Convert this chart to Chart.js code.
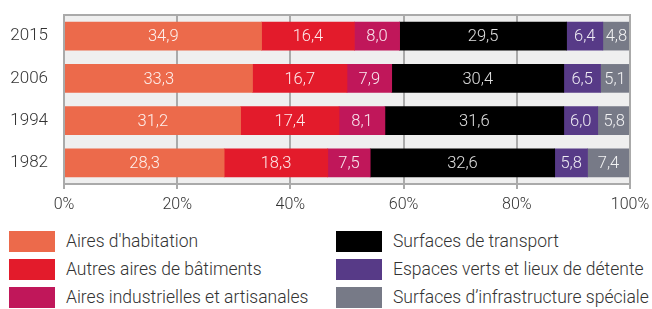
<!DOCTYPE html>
<html><head><meta charset="utf-8">
<script src="https://cdn.jsdelivr.net/npm/chart.js@4/dist/chart.umd.min.js"></script>
<style>
html,body{margin:0;padding:0;background:#fff;}
body{width:652px;height:309px;position:relative;overflow:hidden;font-family:Roboto,"Noto Sans",sans-serif;font-weight:300;}
#wrap{position:absolute;left:0;top:0;width:652px;height:225px;}
.lg{position:absolute;font-size:17.5px;color:#333;line-height:21px;white-space:nowrap;}
.sw{position:absolute;width:46px;height:21px;}
</style></head><body>
<div id="wrap"><canvas id="c"></canvas></div>
<div id="legend"></div>
<script>
const categories = ['2015','2006','1994','1982'];
const seriesNames = ["Aires d'habitation","Autres aires de bâtiments","Aires industrielles et artisanales","Surfaces de transport","Espaces verts et lieux de détente","Surfaces d’infrastructure spéciale"];
const habitation = [34.9,33.3,31.2,28.3];
const autresBatiments = [16.4,16.7,17.4,18.3];
const industrielles = [8.0,7.9,8.1,7.5];
const transport = [29.5,30.4,31.6,32.6];
const espacesVerts = [6.4,6.5,6.0,5.8];
const infrastructure = [4.8,5.1,5.8,7.4];
const xTicks = [0,20,40,60,80,100];
const colors = ['#ec6a4b','#e31b2b','#c0175a','#000000','#573a87','#777a87'];

const values = [habitation,autresBatiments,industrielles,transport,espacesVerts,infrastructure];
const datasets = values.map((d,i)=>({label:seriesNames[i],data:d,backgroundColor:colors[i],borderWidth:0,barThickness:28}));

const bgPlugin = {id:'bg',beforeDraw(ch){const a=ch.chartArea,c=ch.ctx;c.save();c.fillStyle='#efefef';c.fillRect(a.left,a.top,a.right-a.left,a.bottom-a.top);c.restore();},
 afterDraw(ch){const a=ch.chartArea,c=ch.ctx;c.save();c.strokeStyle='#aaaaaa';c.lineWidth=2;c.strokeRect(a.left,a.top,a.right-a.left,a.bottom-a.top);c.restore();}};
const labelPlugin = {id:'lbl',afterDatasetsDraw(ch){const c=ch.ctx;c.save();c.font='300 16.5px Roboto';c.textAlign='center';c.textBaseline='middle';
 ch.data.datasets.forEach((ds,i)=>{const m=ch.getDatasetMeta(i);m.data.forEach((el,j)=>{const v=ds.data[j];const x=(el.x+el.base)/2;
 c.fillStyle=i===3?'rgba(235,235,235,0.95)':'rgba(255,255,255,0.9)';c.fillText(v.toFixed(1).replace('.',','),x,el.y+1);});});c.restore();}};

new Chart(document.getElementById('c'),{type:'bar',
 data:{labels:categories,datasets},
 options:{indexAxis:'y',responsive:true,maintainAspectRatio:false,animation:false,
  layout:{padding:{top:15,right:22,left:0,bottom:0}},
  plugins:{legend:{display:false},tooltip:{enabled:false}},
  scales:{
   x:{stacked:true,min:0,max:100,afterBuildTicks(s){s.ticks=xTicks.map(v=>({value:v}));},
      afterFit(s){s.height=41;s.paddingLeft=0;s.paddingRight=0;},
      border:{display:false},
      grid:{color:'#aaaaaa',lineWidth:2,tickLength:5,drawTicks:true,tickColor:'#aaaaaa'},
      ticks:{color:'#333',font:{family:'Roboto',weight:300,size:16},padding:6,callback:v=>v+'%',maxRotation:0}},
   y:{stacked:true,afterFit(s){s.width=64;s.paddingTop=0;s.paddingBottom=0;},border:{display:false},grid:{display:false},
      ticks:{color:'#333',font:{family:'Roboto',weight:300,size:17},padding:8}}
  }},
 plugins:[bgPlugin,labelPlugin]});

const lg=document.getElementById('legend');
const pos=[[9,231],[9,259],[9,287],[336,231],[336,259],[336,287]];
seriesNames.forEach((n,i)=>{const [x,y]=pos[i];
 const s=document.createElement('div');s.className='sw';s.style.left=x+'px';s.style.top=y+'px';s.style.background=colors[i];lg.appendChild(s);
 const t=document.createElement('div');t.className='lg';t.style.left=(x+57)+'px';t.style.top=(y)+'px';t.textContent=n;lg.appendChild(t);});
</script></body></html>
